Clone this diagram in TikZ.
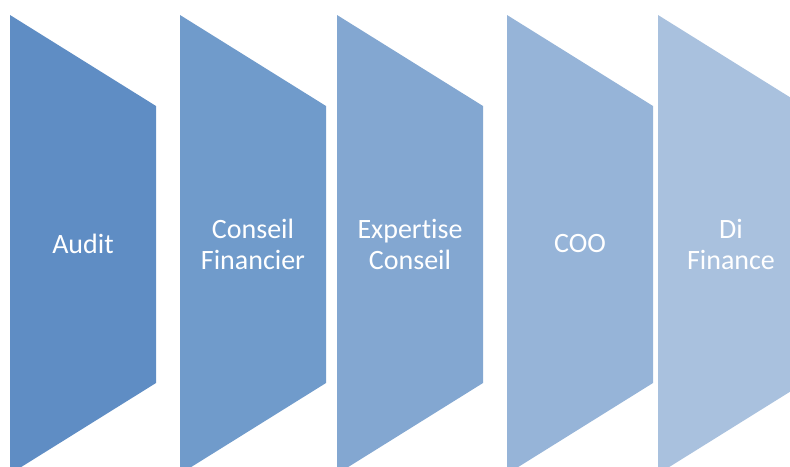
\documentclass[tikz,border=0pt]{standalone}
\usepackage{fontspec}
\setmainfont[Ligatures={NoCommon}]{Carlito}
\definecolor{cA}{HTML}{5F8DC4}
\definecolor{cB}{HTML}{709BCB}
\definecolor{cC}{HTML}{83A7D1}
\definecolor{cD}{HTML}{96B4D8}
\definecolor{cE}{HTML}{A9C1DE}
\begin{document}
\begin{tikzpicture}[x=1pt,y=-1pt]
\tikzset{
  lbl/.style={text=white, align=center, font=\fontsize{28}{31}\selectfont, inner sep=0pt},
}
\useasboundingbox (0,0) rectangle (790,466);
\clip (0,0) rectangle (790,466);
\foreach \x/\c in {10/cA,180/cB,337/cC,507/cD,658/cE}{
  \fill[\c] (\x,15) -- ({\x+146},106) -- ({\x+146},383) -- (\x,474) -- cycle;
}
\node[lbl] (audit) at (83,244) {Audit};
\node[lbl] (conseil) at (253,244) {Conseil\\Financier};
\node[lbl] (expertise) at (410,244) {Expertise\\Conseil};
\node[lbl] (coo) at (580,244) {COO};
\node[lbl] (di) at (731,244) {Di\\Finance};
\end{tikzpicture}
\end{document}
